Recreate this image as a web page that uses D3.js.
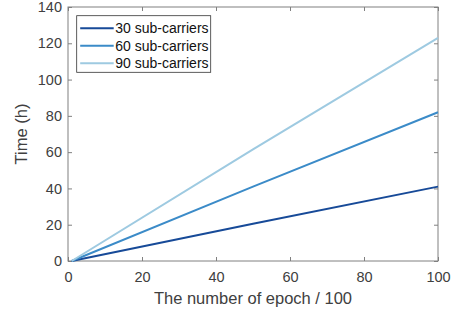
<!DOCTYPE html>
<html>
<head>
<meta charset="utf-8">
<script src="https://cdn.jsdelivr.net/npm/d3@7"></script>
<style>
body { margin: 0; background: #fff; }
text { font-family: "Liberation Sans", Arial, sans-serif; }
</style>
</head>
<body>
<script>
// values
var epochs = [1, 50, 100];
var sub30 = [0, 20.5, 41];
var sub60 = [0, 41, 82];
var sub90 = [0, 61.5, 123];
var seriesNames = ["30 sub-carriers", "60 sub-carriers", "90 sub-carriers"];
var seriesColors = ["#174a98", "#3b8bc8", "#9ecae1"];
var xTicks = [0, 20, 40, 60, 80, 100];
var yTicks = [0, 20, 40, 60, 80, 100, 120, 140];

var W = 453, H = 314;
var m = {left: 68, top: 7, right: 15, bottom: 53};
var iw = W - m.left - m.right, ih = H - m.top - m.bottom;

var svg = d3.select("body").append("svg")
    .attr("width", W).attr("height", H);

var x = d3.scaleLinear().domain([0, 100]).range([0, iw]);
var y = d3.scaleLinear().domain([0, 140]).range([ih, 0]);

var g = svg.append("g").attr("transform", "translate(" + m.left + "," + m.top + ")");

var axisColor = "#808080", textColor = "#404040";

function styleAxis(sel, showText) {
    sel.select(".domain").remove();
    sel.selectAll(".tick line").attr("stroke", axisColor);
    sel.selectAll(".tick text").attr("fill", textColor).attr("font-size", 14.5)
        .style("display", showText ? null : "none");
}

g.append("g").attr("transform", "translate(0," + ih + ")")
    .call(d3.axisBottom(x).tickValues(xTicks).tickSizeInner(-4).tickSizeOuter(0).tickPadding(11))
    .call(styleAxis, true);
g.append("g")
    .call(d3.axisTop(x).tickValues(xTicks).tickSizeInner(-4).tickSizeOuter(0))
    .call(styleAxis, false);
g.append("g")
    .call(d3.axisLeft(y).tickValues(yTicks).tickSizeInner(-4).tickSizeOuter(0).tickPadding(6))
    .call(styleAxis, true);
g.append("g").attr("transform", "translate(" + iw + ",0)")
    .call(d3.axisRight(y).tickValues(yTicks).tickSizeInner(-4).tickSizeOuter(0))
    .call(styleAxis, false);

g.append("rect").attr("width", iw).attr("height", ih)
    .attr("fill", "none").attr("stroke", axisColor).attr("stroke-width", 1);

var line = d3.line().x(function(d) { return x(d[0]); }).y(function(d) { return y(d[1]); });
var allSeries = [sub30, sub60, sub90];

g.selectAll(".series").data(allSeries).join("path")
    .attr("class", "series")
    .attr("fill", "none")
    .attr("stroke", function(d, i) { return seriesColors[i]; })
    .attr("stroke-width", 2)
    .attr("d", function(d) { return line(epochs.map(function(e, j) { return [e, d[j]]; })); });

// legend
var lg = g.append("g").attr("transform", "translate(8.7,8.7)");
lg.append("rect").attr("width", 134).attr("height", 56.6)
    .attr("fill", "#fff").attr("stroke", "#333").attr("stroke-width", 0.8);
seriesNames.forEach(function(name, i) {
    var yy = 12.6 + i * 17.5;
    lg.append("line").attr("x1", 3.5).attr("x2", 37).attr("y1", yy).attr("y2", yy)
        .attr("stroke", seriesColors[i]).attr("stroke-width", 2);
    lg.append("text").attr("x", 38.5).attr("y", yy + 5)
        .attr("font-size", 14).attr("fill", "#111").text(name);
});

svg.append("text").attr("x", m.left + iw / 2).attr("y", 304)
    .attr("text-anchor", "middle").attr("font-size", 16.5).attr("fill", textColor)
    .text("The number of epoch / 100");
svg.append("text").attr("transform", "translate(27," + (m.top + ih / 2) + ") rotate(-90)")
    .attr("text-anchor", "middle").attr("font-size", 16.5).attr("fill", textColor)
    .text("Time (h)");
</script>
</body>
</html>
